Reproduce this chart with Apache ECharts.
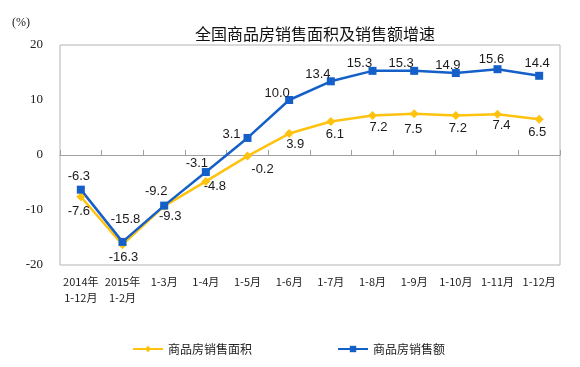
<!DOCTYPE html>
<html>
<head>
<meta charset="utf-8">
<script src="https://cdn.jsdelivr.net/npm/echarts@6/dist/echarts.min.js"></script>
<style>
html,body{margin:0;padding:0;background:#fff;}
#chart{width:580px;height:367px;}
</style>
</head>
<body>
<div id="chart"></div>
<script>
var categories = ['2014年\n1-12月','2015年\n1-2月','1-3月','1-4月','1-5月','1-6月','1-7月','1-8月','1-9月','1-10月','1-11月','1-12月'];
var areaName = '商品房销售面积';
var salesName = '商品房销售额';
var areaValues = [-7.6, -16.3, -9.3, -4.8, -0.2, 3.9, 6.1, 7.2, 7.5, 7.2, 7.4, 6.5];
var salesValues = [-6.3, -15.8, -9.2, -3.1, 3.1, 10.0, 13.4, 15.3, 15.3, 14.9, 15.6, 14.4];
var yTicks = [-20, -10, 0, 10, 20];

// label placement (offsets from marker centre)
var areaLabelOffsets = [[-2,15],[1,13],[6,10],[9,5],[15,13],[6,11],[4,13],[6,12],[-1,16],[2,13],[4,11],[-2,13]];
var salesLabelOffsets = [[-2,-13],[3,-22],[-8,-14],[-9,-9],[-16,-4],[-12,-7],[-13,-7],[-13,-7],[-13,-7],[-8,-8],[-6,-10],[-2,-12]];

var chart = echarts.init(document.getElementById('chart'), null, {renderer:'canvas'});
function mk(vals, offs){
  return vals.map(function(v,i){ return {value:v, label:{offset:offs[i]}}; });
}
var labelStyle = {
  show:true, position:'inside', fontSize:13, color:'#1a1a1a',
  fontFamily:'Liberation Sans, Arial, sans-serif',
  formatter:function(p){ return p.value.toFixed(1); }
};
var gridColor = '#b4b4b4';
var zeroColor = '#a0a0a0';
chart.setOption({
  animation:false,
  backgroundColor:'#fff',
  title:{
    text:'全国商品房销售面积及销售额增速',
    left:190, top:21,
    textStyle:{fontSize:16, fontWeight:'normal', color:'#111', fontFamily:'Noto Sans CJK SC'}
  },
  graphic:[{
    type:'text', left:12, top:17,
    style:{text:'(%)', fontSize:12, fill:'#222', fontFamily:'Liberation Serif, serif'}
  }],
  legend:{
    left:127, top:338, itemWidth:30, itemHeight:8, itemGap:85,
    textStyle:{fontSize:12, color:'#222', fontFamily:'Noto Sans CJK SC'},
    data:[areaName, salesName]
  },
  grid:[
    {left:60, right:20, top:45, bottom:102, show:true, borderColor:gridColor, borderWidth:1},
    // upper half (0..20) of the plot: its bottom edge is the zero line
    {left:60, right:20, top:45, bottom:212, show:false}
  ],
  xAxis:[{
    gridIndex:0, type:'category', data:categories, position:'bottom', boundaryGap:true,
    axisLine:{show:false, onZero:false},
    axisTick:{show:false},
    axisLabel:{interval:0, margin:9, fontSize:11, lineHeight:16, color:'#222', fontFamily:'Noto Sans CJK SC'}
  },{
    gridIndex:1, type:'category', data:categories, position:'bottom', boundaryGap:true,
    axisLine:{show:true, onZero:false, lineStyle:{color:zeroColor, width:1.2}},
    axisTick:{show:true, inside:true, length:5, interval:0, lineStyle:{color:zeroColor, width:1}},
    axisLabel:{show:false}
  }],
  yAxis:[{
    gridIndex:0, type:'value', min:yTicks[0], max:yTicks[yTicks.length-1], interval:10,
    axisLine:{show:false}, axisTick:{show:false}, splitLine:{show:false},
    axisLabel:{margin:17, fontSize:13, color:'#222', fontFamily:'Liberation Serif, serif'}
  },{
    gridIndex:1, type:'value', min:0, max:yTicks[yTicks.length-1], show:false
  }],
  series:[{
    name:areaName, type:'line', xAxisIndex:0, yAxisIndex:0, data:mk(areaValues, areaLabelOffsets),
    symbol:'diamond', symbolSize:9,
    lineStyle:{color:'#FFC20E', width:2.5},
    itemStyle:{color:'#FFC20E'},
    label:labelStyle
  },{
    name:salesName, type:'line', xAxisIndex:0, yAxisIndex:0, data:mk(salesValues, salesLabelOffsets),
    symbol:'rect', symbolSize:8,
    lineStyle:{color:'#1560C8', width:2.5},
    itemStyle:{color:'#1560C8'},
    label:labelStyle
  }]
});
</script>
</body>
</html>
